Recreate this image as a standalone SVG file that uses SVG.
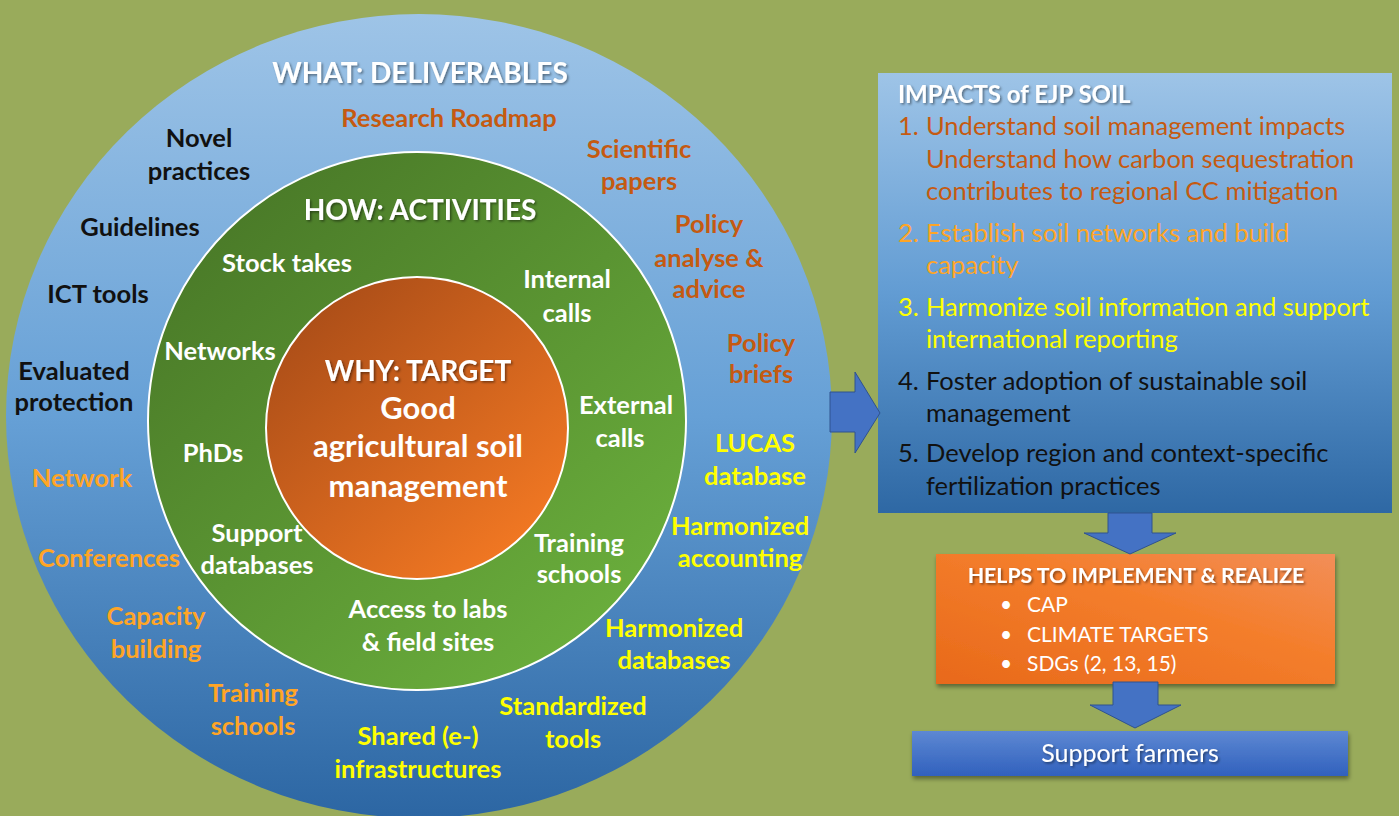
<svg xmlns="http://www.w3.org/2000/svg" width="1399" height="816" viewBox="0 0 1399 816">
<defs>
<linearGradient id="gBlue" x1="0" y1="0" x2="0" y2="1">
<stop offset="0" stop-color="#9EC4E7"/><stop offset="0.5" stop-color="#66A0D6"/><stop offset="1" stop-color="#2C66A3"/>
</linearGradient>
<linearGradient id="gBox" x1="0" y1="0" x2="0" y2="1">
<stop offset="0" stop-color="#9EC4E7"/><stop offset="0.5" stop-color="#629CD3"/><stop offset="1" stop-color="#2E68A4"/>
</linearGradient>
<linearGradient id="gGreen" x1="0.15" y1="0.1" x2="0.85" y2="0.9">
<stop offset="0" stop-color="#4A7A28"/><stop offset="1" stop-color="#6AAE3C"/>
</linearGradient>
<linearGradient id="gOrange" x1="0.15" y1="0.1" x2="0.85" y2="0.9">
<stop offset="0" stop-color="#AC4E18"/><stop offset="1" stop-color="#F27823"/>
</linearGradient>
<linearGradient id="gHelp" x1="0" y1="1" x2="1" y2="0">
<stop offset="0" stop-color="#E8691A"/><stop offset="0.6" stop-color="#F47E2C"/><stop offset="1" stop-color="#F28E58"/>
</linearGradient>
<linearGradient id="gFarm" x1="0" y1="0" x2="0" y2="1">
<stop offset="0" stop-color="#5D88D3"/><stop offset="1" stop-color="#3161BD"/>
</linearGradient>
<filter id="ts" x="-10%" y="-30%" width="120%" height="160%">
<feDropShadow dx="1.5" dy="1.5" stdDeviation="1" flood-color="#000" flood-opacity="0.45"/>
</filter>
<filter id="bs" x="-5%" y="-10%" width="110%" height="130%">
<feDropShadow dx="1" dy="3" stdDeviation="2" flood-color="#000" flood-opacity="0.4"/>
</filter>
<style>
text{font-family:Lato,"Open Sans","Liberation Sans",sans-serif}
.b{font-weight:700;font-size:25.5px;text-anchor:middle}
.t{font-weight:700;font-size:28px;text-anchor:middle;fill:#fff}
.c{font-weight:700;font-size:31px;text-anchor:middle;fill:#fff}
.w{fill:#fff}.k{fill:#111}.br{fill:#C55A11}.o{fill:#FFA526}.y{fill:#FFFF00}
.r{font-size:25.5px}
.arrow{fill:#4472C4;stroke:#2F528F;stroke-width:1}
</style>
</defs>
<rect width="1399" height="816" fill="#99AB5B"/>

<g id="deliverables">
<ellipse cx="419" cy="416" rx="413" ry="402" fill="url(#gBlue)"/>
<text class="t" x="420" y="83" filter="url(#ts)">WHAT: DELIVERABLES</text>
<text class="b br" x="449" y="127">Research Roadmap</text>
<text class="b k" x="199" y="147">Novel</text>
<text class="b k" x="199" y="180">practices</text>
<text class="b k" x="140" y="236">Guidelines</text>
<text class="b k" x="98" y="303">ICT tools</text>
<text class="b k" x="74" y="380">Evaluated</text>
<text class="b k" x="74" y="411">protection</text>
<text class="b o" x="82" y="487">Network</text>
<text class="b o" x="109" y="567">Conferences</text>
<text class="b o" x="156" y="625">Capacity</text>
<text class="b o" x="156" y="658">building</text>
<text class="b o" x="253" y="702">Training</text>
<text class="b o" x="253" y="735">schools</text>
<text class="b y" x="418" y="745">Shared (e-)</text>
<text class="b y" x="418" y="778">infrastructures</text>
<text class="b y" x="573" y="715">Standardized</text>
<text class="b y" x="573" y="748">tools</text>
<text class="b y" x="674" y="637">Harmonized</text>
<text class="b y" x="674" y="669">databases</text>
<text class="b y" x="740" y="535">Harmonized</text>
<text class="b y" x="740" y="567">accounting</text>
<text class="b y" x="755" y="452">LUCAS</text>
<text class="b y" x="755" y="485">database</text>
<text class="b br" x="761" y="352">Policy</text>
<text class="b br" x="761" y="383">briefs</text>
<text class="b br" x="709" y="233">Policy</text>
<text class="b br" x="709" y="267">analyse &amp;</text>
<text class="b br" x="709" y="298">advice</text>
<text class="b br" x="639" y="158">Scientific</text>
<text class="b br" x="639" y="190">papers</text>
</g>

<g id="activities">
<circle cx="417" cy="421" r="269" fill="url(#gGreen)" stroke="#fff" stroke-width="2"/>
<text class="t" x="420" y="220" filter="url(#ts)">HOW: ACTIVITIES</text>
<text class="b w" x="287" y="272">Stock takes</text>
<text class="b w" x="567" y="288">Internal</text>
<text class="b w" x="567" y="322">calls</text>
<text class="b w" x="220" y="360">Networks</text>
<text class="b w" x="626" y="414">External</text>
<text class="b w" x="620" y="447">calls</text>
<text class="b w" x="213" y="462">PhDs</text>
<text class="b w" x="257" y="542">Support</text>
<text class="b w" x="257" y="574">databases</text>
<text class="b w" x="579" y="552">Training</text>
<text class="b w" x="579" y="583">schools</text>
<text class="b w" x="428" y="618">Access to labs</text>
<text class="b w" x="428" y="651">&amp; field sites</text>
</g>

<g id="target">
<circle cx="417" cy="428" r="151" fill="url(#gOrange)" stroke="#fff" stroke-width="2"/>
<text class="t" x="418" y="381" filter="url(#ts)">WHY: TARGET</text>
<text class="c" x="418" y="419">Good</text>
<text class="c" x="418" y="457">agricultural soil</text>
<text class="c" x="418" y="497">management</text>
</g>

<g id="impacts">
<rect x="878" y="73" width="514" height="440" fill="url(#gBox)"/>
<text x="898" y="103" fill="#fff" font-weight="700" font-size="24" filter="url(#ts)">IMPACTS of EJP SOIL</text>
<g class="r">
<text x="898" y="135" fill="#C55A11">1.</text><text x="926" y="135" fill="#C55A11">Understand soil management impacts</text>
<text x="926" y="168" fill="#C55A11">Understand how carbon sequestration</text>
<text x="926" y="200" fill="#C55A11">contributes to regional CC mitigation</text>
<text x="898" y="242" fill="#FFA526">2.</text><text x="926" y="242" fill="#FFA526">Establish soil networks and build</text>
<text x="926" y="274" fill="#FFA526">capacity</text>
<text x="898" y="316" fill="#FFFF00">3.</text><text x="926" y="316" fill="#FFFF00">Harmonize soil information and support</text>
<text x="926" y="348" fill="#FFFF00">international reporting</text>
<text x="898" y="390" fill="#111">4.</text><text x="926" y="390" fill="#111">Foster adoption of sustainable soil</text>
<text x="926" y="422" fill="#111">management</text>
<text x="898" y="462" fill="#111">5.</text><text x="926" y="462" fill="#111">Develop region and context-specific</text>
<text x="926" y="495" fill="#111">fertilization practices</text>
</g>
</g>

<g id="helps">
<rect x="936" y="554" width="399" height="130" fill="url(#gHelp)" filter="url(#bs)"/>
<text x="1136" y="583" fill="#fff" font-weight="700" font-size="21.3" text-anchor="middle" filter="url(#ts)">HELPS TO IMPLEMENT &amp; REALIZE</text>
<g fill="#fff" font-size="21">
<text x="1000" y="612">•</text><text x="1027" y="612">CAP</text>
<text x="1000" y="642">•</text><text x="1027" y="642">CLIMATE TARGETS</text>
<text x="1000" y="671">•</text><text x="1027" y="671">SDGs (2, 13, 15)</text>
</g>
</g>

<g id="farmers">
<rect x="912" y="731" width="436" height="45" fill="url(#gFarm)" filter="url(#bs)"/>
<text x="1130" y="762" fill="#fff" font-size="25" text-anchor="middle" filter="url(#ts)">Support farmers</text>
</g>

<g id="connectors">
<path class="arrow" d="M830,392 H855 V372 L880,413 L855,453 V432 H830 Z"/>
<path class="arrow" d="M1108,513 H1152 V533 H1176 L1130,554 L1084,533 H1108 Z"/>
<path class="arrow" d="M1113,682 H1158 V705 H1181 L1135,728 L1090,705 H1113 Z"/>
</g>
</svg>
